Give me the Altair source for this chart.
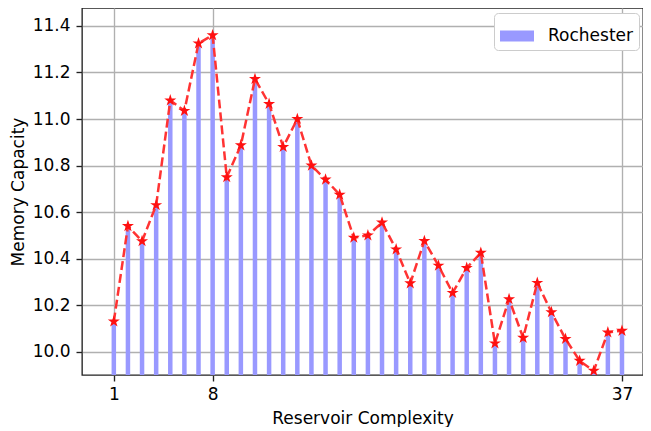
import altair as alt
import pandas as pd

x_vals = list(range(1, 38))
capacity = [10.13, 10.54, 10.475, 10.63, 11.08, 11.035, 11.325, 11.36, 10.75, 10.887,
            11.172, 11.065, 10.88, 11.0, 10.80, 10.74, 10.675, 10.49, 10.50, 10.555,
            10.44, 10.294, 10.476, 10.37, 10.253, 10.36, 10.425, 10.036, 10.226, 10.06,
            10.296, 10.17, 10.055, 9.961, 9.918, 10.083, 10.09]
series_name = "Rochester"
x_ticks = [1, 8, 37]
y_ticks = [10.0, 10.2, 10.4, 10.6, 10.8, 11.0, 11.2, 11.4]

df = pd.DataFrame({"x": x_vals, "capacity": capacity, "series": series_name})

FONT = "DejaVu Sans"
STAR = ("M0,-1 L0.225,-0.309 L0.951,-0.309 L0.363,0.118 L0.588,0.809 L0,0.382 "
        "L-0.588,0.809 L-0.363,0.118 L-0.951,-0.309 L-0.225,-0.309 Z")
RECT = "M-1,-0.32 L1,-0.32 L1,0.32 L-1,0.32 Z"

xscale = alt.Scale(domain=[-0.9, 38.135], nice=False, zero=False)
yscale = alt.Scale(domain=[9.9, 11.477], nice=False, zero=False)

xaxis = alt.Axis(values=x_ticks, format="d", title="Reservoir Complexity",
                 labelPadding=5, titlePadding=8)
yaxis = alt.Axis(values=y_ticks, format=".1f", title="Memory Capacity",
                 labelPadding=6, titlePadding=5)

base = alt.Chart(df)

bars = base.mark_bar(size=4.5, clip=True).encode(
    x=alt.X("x:Q", scale=xscale, axis=xaxis),
    y=alt.Y("capacity:Q", scale=yscale, axis=yaxis),
    y2=alt.datum(9.9),
    color=alt.Color("series:N", scale=alt.Scale(range=["#9999ff"]),
                    legend=alt.Legend(title=None, orient="none", legendX=412, legendY=5,
                                      strokeColor="#cccccc", cornerRadius=4, padding=6,
                                      fillColor="white", symbolType=RECT, symbolSize=1156,
                                      symbolOpacity=1, symbolStrokeWidth=0,
                                      labelFontSize=17, labelFont=FONT, labelColor="#000",
                                      labelOffset=14)),
)

line = base.mark_line(color="#ff3333", strokeWidth=2.5, strokeDash=[9, 4], clip=True).encode(
    x=alt.X("x:Q", scale=xscale),
    y=alt.Y("capacity:Q", scale=yscale),
)

stars = base.mark_point(shape=STAR, size=160, filled=True, color="#ff1010", opacity=1,
                        clip=True).encode(
    x=alt.X("x:Q", scale=xscale),
    y=alt.Y("capacity:Q", scale=yscale),
)

chart = alt.layer(bars, line, stars).properties(
    width=561, height=367,
    autosize=alt.AutoSizeParams(type="none"),
    padding={"left": 74, "top": 0, "right": 0, "bottom": 52},
).configure_view(
    stroke="#222222", strokeWidth=1.35
).configure_axis(
    grid=True, gridColor="#b0b0b0", gridWidth=1.35,
    domain=False, tickColor="#222222", tickSize=6, tickWidth=1.35,
    labelFont=FONT, labelFontSize=17, labelColor="#000",
    titleFont=FONT, titleFontSize=17, titleFontWeight="normal", titleColor="#000",
)

chart.save("out.html", embed_options={"renderer": "svg", "actions": False})
